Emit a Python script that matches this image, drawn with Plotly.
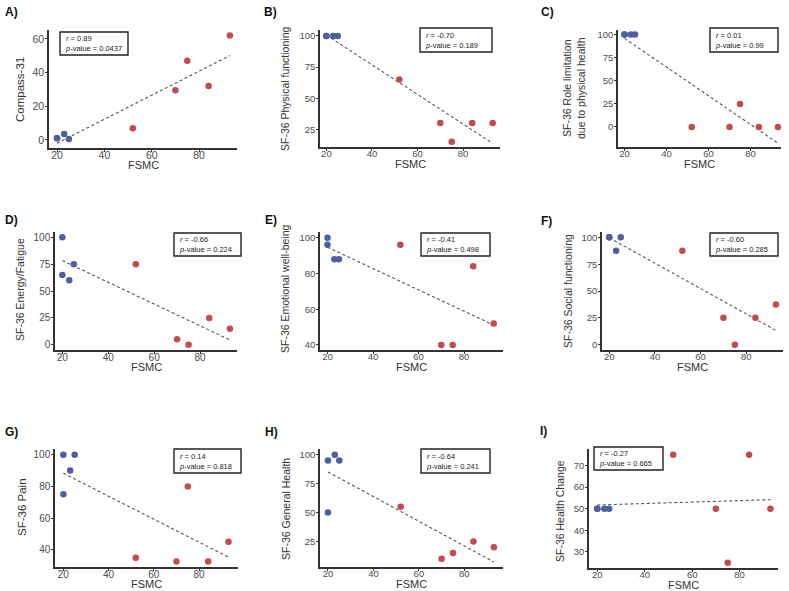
import numpy as np
import plotly.graph_objects as go

W, H = 789, 591

# FSMC scores (4 low-FSMC patients in blue, 5 high-FSMC patients in red)
fsmc_blue = [20, 20, 23, 25]
fsmc_red = [52, 70, 75, 84, 93]

compass31_blue = [1, 1, 3.5, 0.5]
compass31_red = [7, 29.5, 47, 32, 62]
phys_func_blue = [100, 100, 100, 100]
phys_func_red = [65, 30, 15, 30, 30]
role_phys_blue = [100, 100, 100, 100]
role_phys_red = [0, 0, 25, 0, 0]
energy_blue = [100, 65, 60, 75]
energy_red = [75, 5, 0, 25, 15]
emotional_blue = [100, 96, 88, 88]
emotional_red = [96, 40, 40, 84, 52]
social_blue = [100, 100, 87.5, 100]
social_red = [87.5, 25, 0, 25, 37.5]
pain_blue = [100, 75, 90, 100]
pain_red = [35, 32.5, 80, 32.5, 45]
general_blue = [95, 50, 100, 95]
general_red = [55, 10, 15, 25, 20]
change_blue = [50, 50, 50, 50]
change_red = [75, 50, 25, 75, 50]

panel_letters = ["A)", "B)", "C)", "D)", "E)", "F)", "G)", "H)", "I)"]
x_title = "FSMC"
y_titles = ["Compass-31", "SF-36 Physical functioning",
            "SF-36 Role limitation<br>due to physical health",
            "SF-36 Energy/Fatigue", "SF-36 Emotional well-being",
            "SF-36 Social functioning", "SF-36 Pain",
            "SF-36 General Health", "SF-36 Health Change"]
r_values = ["0.89", "-0.70", "0.01", "-0.66", "-0.41", "-0.60", "0.14", "-0.64", "-0.27"]
p_values = ["0.0437", "0.189", "0.99", "0.224", "0.498", "0.285", "0.818", "0.241", "0.665"]
y_ticks = [[0, 20, 40, 60], [25, 50, 75, 100], [0, 25, 50, 75, 100],
           [0, 25, 50, 75, 100], [40, 60, 80, 100], [0, 25, 50, 75, 100],
           [40, 60, 80, 100], [25, 50, 75, 100], [30, 40, 50, 60, 70]]
x_ticks = [20, 40, 60, 80]

blues = [compass31_blue, phys_func_blue, role_phys_blue, energy_blue, emotional_blue,
         social_blue, pain_blue, general_blue, change_blue]
reds = [compass31_red, phys_func_red, role_phys_red, energy_red, emotional_red,
        social_red, pain_red, general_red, change_red]

# layout (pixel boxes of plot areas: x0, x1, y0(top), y1(bottom))
boxes = [(49, 237, 30, 148), (320, 500, 30, 147), (618, 781, 30, 147),
         (55, 237, 232, 350), (320, 503, 232, 350), (602, 783, 232, 350),
         (55, 238, 449, 567), (320, 503, 449, 567), (589, 778, 449, 568)]
x_ranges = [[16.6, 96], [17.2, 96.2], [16.9, 94.5], [16.8, 96.1], [16.7, 97.1],
            [16.8, 96.1], [16.3, 97.2], [16.5, 97], [16.5, 96.2]]
y_ranges = [[-4.8, 65.3], [10.8, 104.8], [-21.7, 105], [-4.9, 105], [37.2, 103.2],
            [-5, 105], [29.1, 103.6], [2.9, 104.9], [22.6, 77.6]]
label_pos = [(3, 12), (262, 12), (539, 12), (3, 220), (263, 220), (539, 221),
             (3, 432), (263, 432), (538, 431)]
stat_boxes = [(60, 128, 32, 55), (420, 492, 28, 52), (710, 778, 28, 52),
              (174, 241, 233, 256), (421, 490, 233, 256), (710, 778, 233, 256),
              (174, 241, 449, 473), (421, 490, 449, 473), (594, 663, 447, 470)]
ytitle_pos = [(20, 90), (285, 89), (574, 88), (20, 290), (285, 289), (568, 291),
              (22, 507), (286, 509), (560, 511)]
title_sizes = [11.5, 10.5, 10.5, 10.5, 10.5, 10.5, 11.5, 10.5, 10.5]
tick_sizes = [10.5, 9.5, 9.5, 10, 9.5, 9.5, 10, 9.5, 9.5]

BLUE = "#4e5ea3"
RED = "#c44a4c"
FONT = "Arial, Liberation Sans, sans-serif"

fig = go.Figure()


def px_x(v):
    return v / W


def px_y(v):
    return 1 - v / H


for i in range(9):
    sfx = "" if i == 0 else str(i + 1)
    xa, ya = "x" + sfx, "y" + sfx
    xs = fsmc_blue + fsmc_red
    ys = blues[i] + reds[i]
    slope, intercept = np.polyfit(xs, ys, 1)
    lx = [min(xs), max(xs)]
    fig.add_trace(go.Scatter(x=lx, y=[slope * v + intercept for v in lx], mode="lines",
                             line=dict(color="#555555", width=1.1, dash="3px,2.5px"),
                             xaxis=xa, yaxis=ya, showlegend=False, hoverinfo="skip"))
    fig.add_trace(go.Scatter(x=fsmc_blue, y=blues[i], mode="markers",
                             marker=dict(color=BLUE, size=6.5),
                             xaxis=xa, yaxis=ya, showlegend=False, cliponaxis=False))
    fig.add_trace(go.Scatter(x=fsmc_red, y=reds[i], mode="markers",
                             marker=dict(color=RED, size=6.5),
                             xaxis=xa, yaxis=ya, showlegend=False, cliponaxis=False))
    x0, x1, y0, y1 = boxes[i]
    fig.layout["xaxis" + sfx] = dict(
        domain=[px_x(x0), px_x(x1)], anchor=ya, range=x_ranges[i],
        tickvals=x_ticks, showline=True, linecolor="#333333", linewidth=1.5,
        ticks="outside", ticklen=2, tickcolor="#333333", showgrid=False, zeroline=False,
        tickfont=dict(family=FONT, size=tick_sizes[i], color="#4d4d4d"),
        ticklabelstandoff=-5, automargin=False)
    fig.layout["yaxis" + sfx] = dict(
        domain=[px_y(y1), px_y(y0)], anchor=xa, range=y_ranges[i],
        tickvals=y_ticks[i], showline=True, linecolor="#333333", linewidth=1.5,
        ticks="outside", ticklen=2, tickcolor="#333333", showgrid=False, zeroline=False,
        tickfont=dict(family=FONT, size=tick_sizes[i], color="#4d4d4d"),
        ticklabelstandoff=-1, automargin=False)
    # x title
    fig.add_annotation(x=px_x((x0 + x1) / 2), y=px_y(y1 + 17), xref="paper", yref="paper",
                       text=x_title, showarrow=False, xanchor="center", yanchor="middle",
                       font=dict(family=FONT, size=11, color="#333333"))
    # y title
    tx, ty = ytitle_pos[i]
    fig.add_annotation(x=px_x(tx), y=px_y(ty), xref="paper", yref="paper",
                       text=y_titles[i], showarrow=False, textangle=-90,
                       xanchor="center", yanchor="middle",
                       font=dict(family=FONT, size=title_sizes[i], color="#333333"))
    # panel letter
    lx0, ly0 = label_pos[i]
    fig.add_annotation(x=px_x(lx0), y=px_y(ly0), xref="paper", yref="paper",
                       text="<b>" + panel_letters[i] + "</b>", showarrow=False,
                       xanchor="left", yanchor="middle",
                       font=dict(family=FONT, size=12, color="#111111"))
    # stats box
    bx0, bx1, by0, by1 = stat_boxes[i]
    fig.add_shape(type="rect", xref="paper", yref="paper",
                  x0=px_x(bx0), x1=px_x(bx1), y0=px_y(by1), y1=px_y(by0),
                  line=dict(color="#222222", width=1.4), fillcolor="white")
    fig.add_annotation(x=px_x(bx0 + 3), y=px_y((by0 + by1) / 2), xref="paper", yref="paper",
                       text="<i>r</i> = " + r_values[i] + "<br><i>p</i>-value = " + p_values[i],
                       showarrow=False, xanchor="left", yanchor="middle", align="left",
                       font=dict(family=FONT, size=7.5, color="#222222"))

fig.update_layout(width=W, height=H, margin=dict(l=0, r=0, t=0, b=0),
                  plot_bgcolor="white", paper_bgcolor="white",
                  font=dict(family=FONT))

fig.write_html("out.html", config={"displayModeBar": False},
               post_script="document.body.style.margin='0';document.body.style.overflow='hidden';")
